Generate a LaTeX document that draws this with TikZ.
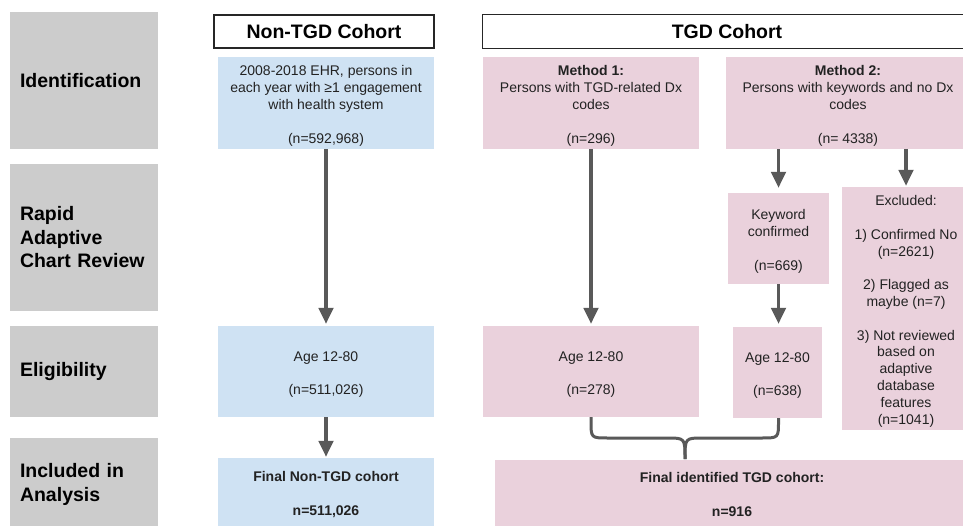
\documentclass[tikz,border=0pt]{standalone}
\usepackage{fontspec}
\setmainfont{Liberation Sans}
\usetikzlibrary{arrows.meta}
\definecolor{graybox}{HTML}{CCCCCC}
\definecolor{bluebox}{HTML}{CFE2F3}
\definecolor{pinkbox}{HTML}{EAD1DC}
\definecolor{arrowgray}{HTML}{595959}
\definecolor{txtcol}{HTML}{222222}
% box text: optional left pad shifts the centred text to the right
\newcommand\bxt[2][0pt]{\hspace*{#1}\begin{tabular}{@{}c@{}}\rule{0pt}{18pt}#2\end{tabular}}
\begin{document}
\begin{tikzpicture}[x=1pt,y=-1pt,
  stage/.style={rectangle, fill=graybox, inner xsep=10pt, inner ysep=0pt,
    text width=128pt, align=left, minimum width=148pt,
    font=\fontsize{19.5}{23.5}\selectfont\bfseries, text=black},
  header/.style={rectangle, fill=white, inner sep=0pt,
    font=\fontsize{19.5}{23.5}\selectfont\bfseries, text=black, minimum height=33pt},
  hline/.style={draw=black!85, line width=1.3pt},
  box/.style={rectangle, inner sep=0pt,
    font=\fontsize{14}{16.8}\selectfont, text=txtcol},
  bluebx/.style={box, fill=bluebox},
  pinkbx/.style={box, fill=pinkbox},
  arr/.style={draw=arrowgray, line width=3.3pt, -{Triangle[width=14.5pt,length=16pt]}},
  bracel/.style={draw=arrowgray, line width=3pt, line join=round}
]
\useasboundingbox (0,0) rectangle (963,526);
\fill[white] (0,0) rectangle (963,526);

% stage labels
\node[stage, minimum height=137pt] (g1) at (84,80.5) {Identification};
\node[stage, minimum height=147pt] (g2) at (84,237.5) {Rapid\\Adaptive\\Chart Review};
\node[stage, minimum height=91pt] (g3) at (84,371.5) {Eligibility};
\node[stage, minimum height=88pt] (g4) at (84,482) {\rule{0pt}{19pt}Included in\\Analysis};

% headers
\node[header, hline, minimum width=220pt] (hn) at (324,31.5) {Non-TGD Cohort};
\node[header, minimum width=480pt] (ht) at (723,31.5) {\hspace*{8pt}TGD Cohort};
\draw[hline] (ht.north east) -- (ht.north west) -- (ht.south west) -- (ht.south east);

% non-TGD column
\node[bluebx, minimum width=216pt, minimum height=92pt] (b1) at (326,103)
  {\bxt{2008-2018 EHR, persons in\\each year with \char"2265 1 engagement\\with health system\\[16.8pt](n=592,968)}};
\node[bluebx, minimum width=216pt, minimum height=91pt] (b2) at (326,371.5)
  {\bxt{Age 12-80\\[16.8pt](n=511,026)}};
\node[bluebx, minimum width=216pt, minimum height=68pt] (b3) at (326,492)
  {\bxt{\textbf{Final Non-TGD cohort}\\[16.8pt]\textbf{n=511,026}}};

% TGD column
\node[pinkbx, minimum width=216pt, minimum height=92pt] (m1) at (591,103)
  {\bxt{\textbf{Method 1:}\\Persons with TGD-related Dx\\codes\\[16.8pt](n=296)}};
\node[pinkbx, minimum width=237pt, minimum height=92pt] (m2) at (844.5,103)
  {\bxt[7pt]{\textbf{Method 2:}\\Persons with keywords and no Dx\\codes\\[16.8pt](n= 4338)}};
\node[pinkbx, minimum width=101pt, minimum height=91pt] (kw) at (778.5,238.5)
  {\bxt{Keyword\\confirmed\\[16.8pt](n=669)}};
\node[pinkbx, minimum width=121pt, minimum height=243pt] (ex) at (902.5,308.5)
  {\bxt[7pt]{Excluded:\\[16.8pt]1) Confirmed No\\(n=2621)\\[16.8pt]2) Flagged as\\maybe (n=7)\\[16.8pt]3) Not reviewed\\based on\\adaptive\\database\\features\\(n=1041)}};
\node[pinkbx, minimum width=216pt, minimum height=91pt] (a1) at (591,371.5)
  {\bxt{Age 12-80\\[16.8pt](n=278)}};
\node[pinkbx, minimum width=89pt, minimum height=91pt] (a2) at (777.5,372.5)
  {\bxt{Age 12-80\\[16.8pt](n=638)}};
\node[pinkbx, minimum width=468pt, minimum height=66pt] (ft) at (729,493)
  {\bxt[6pt]{\textbf{Final identified TGD cohort:}\\[16.8pt]\textbf{n=916}}};

% arrows
\draw[arr, shorten >=2pt] (b1.south) -- (b2.north);
\draw[arr, shorten >=1pt] (b2.south) -- (b3.north);
\draw[arr, shorten >=2pt] (m1.south) -- (a1.north);
\draw[arr, shorten >=5pt] (kw.north |- m2.south) -- (kw.north);
\draw[arr, shorten >=1pt] (906,149) coordinate (m2ex) -- (m2ex |- ex.north);
\draw[arr, shorten >=3pt] (kw.south) -- (kw.south |- a2.north);

% brace
\coordinate (tip) at (685,459);
\draw[bracel] (a1.south) -- (591,421) .. controls (591,438) .. (608,438)
  -- (667,438) .. controls (685,438) .. (tip);
\draw[bracel] (kw.south |- a2.south) -- (778.5,421) .. controls (778.5,438) .. (761.5,438)
  -- (703,438) .. controls (685,438) .. (tip);
\end{tikzpicture}
\end{document}
